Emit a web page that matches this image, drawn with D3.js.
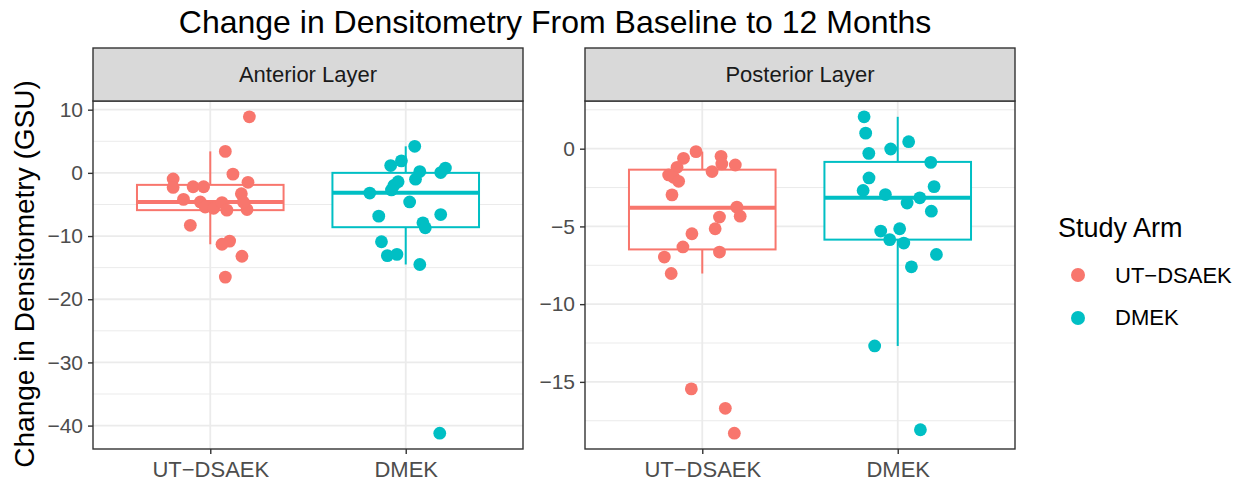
<!DOCTYPE html>
<html>
<head>
<meta charset="utf-8">
<script src="https://cdn.jsdelivr.net/npm/d3@7"></script>
<style>
  body { margin: 0; background: #fff; }
  text { font-family: "Liberation Sans", Arial, sans-serif; }
</style>
</head>
<body>
<div id="chart"></div>
<script>
// study arms and facet layers
const arms = ["UT-DSAEK", "DMEK"];
const armLabels = ["UT\u2212DSAEK", "DMEK"];
const layers = ["Anterior Layer", "Posterior Layer"];
const colors = ["#F8766D", "#00BFC4"];

// change values (GSU) and jitter offset (category units)
const antUtValues = [8.87, 3.4, -0.2, -0.96, -2.3, -2.2, -2.2, -1.5, -3.3, -4.2, -4.6, -5.4, -5.6, -4.7, -5.9, -5.8, -4.6, -8.3, -10.8, -11.3, -13.2, -16.5];
const antUtJitter = [0.20, 0.077, 0.116, -0.19, -0.19, -0.088, -0.034, 0.193, 0.159, -0.137, -0.051, -0.026, 0.017, 0.06, 0.085, 0.188, 0.169, -0.102, 0.099, 0.06, 0.162, 0.077];
const antDmValues = [4.2, 1.9, 1.16, 0.2, -1.0, 0.05, 0.75, -1.4, -2.0, -2.7, -3.2, -4.6, -6.85, -6.6, -7.9, -8.7, -10.9, -13.1, -12.9, -14.5, -41.2];
const antDmJitter = [0.046, -0.022, -0.077, 0.072, 0.05, 0.179, 0.203, -0.039, -0.061, -0.073, -0.184, 0.02, -0.138, 0.179, 0.088, 0.1, -0.124, -0.094, -0.045, 0.072, 0.174];
const postUtValues = [-0.19, -0.62, -0.49, -0.98, -1.05, -1.47, -1.2, -1.69, -1.84, -2.1, -2.97, -3.76, -4.34, -4.4, -5.15, -5.47, -6.32, -6.65, -6.97, -8.03, -15.45, -16.7, -18.3];
const postUtJitter = [-0.032, -0.096, 0.096, 0.1, 0.169, 0.05, -0.129, -0.172, -0.147, -0.121, -0.155, 0.177, 0.194, 0.088, 0.066, -0.053, -0.099, 0.088, -0.194, -0.159, -0.056, 0.118, 0.164];
const postDmValues = [2.05, 1.0, 0.45, -0.02, -0.3, -0.88, -1.88, -2.44, -2.69, -2.95, -3.16, -3.5, -4.02, -5.3, -5.15, -5.85, -6.07, -6.8, -7.6, -12.69, -18.08];
const postDmJitter = [-0.172, -0.164, 0.056, -0.036, -0.148, 0.169, -0.147, 0.186, -0.177, -0.063, 0.113, 0.048, 0.172, -0.087, 0.01, -0.041, 0.031, 0.198, 0.07, -0.118, 0.116];

// box stats [lower whisker, q1, median, q3, upper whisker]
const antUtBox = [-11.3, -5.9, -4.6, -1.9, 3.4];
const antDmBox = [-14.5, -8.6, -3.15, 0.0, 4.2];
const postUtBox = [-8.03, -6.48, -3.8, -1.35, -0.19];
const postDmBox = [-12.69, -5.85, -3.16, -0.85, 2.05];

// tick values
const antTicks = [10, 0, -10, -20, -30, -40];
const antMinor = [5, -5, -15, -25, -35];
const postTicks = [0, -5, -10, -15];
const postMinor = [2.5, -2.5, -7.5, -12.5, -17.5];

const panels = [
  { name: layers[0], x0: 93, x1: 523, ticks: antTicks, minor: antMinor,
    groups: [[antUtValues, antUtJitter, antUtBox], [antDmValues, antDmJitter, antDmBox]] },
  { name: layers[1], x0: 585, x1: 1015, ticks: postTicks, minor: postMinor,
    groups: [[postUtValues, postUtJitter, postUtBox], [postDmValues, postDmJitter, postDmBox]] }
];

const width = 1251, height = 487;
const plotTop = 101, plotBottom = 449, stripTop = 48;

const svg = d3.select("#chart").append("svg")
  .attr("width", width).attr("height", height);

svg.append("text")
  .attr("x", 555).attr("y", 33)
  .attr("text-anchor", "middle")
  .attr("font-size", 32)
  .attr("fill", "#000")
  .text("Change in Densitometry From Baseline to 12 Months");

svg.append("text")
  .attr("transform", "translate(34,274) rotate(-90)")
  .attr("text-anchor", "middle")
  .attr("font-size", 28)
  .text("Change in Densitometry (GSU)");

panels.forEach(p => {
  const all = p.groups[0][0].concat(p.groups[1][0]);
  const ext = d3.extent(all);
  const pad = (ext[1] - ext[0]) * 0.05;
  const y = d3.scaleLinear().domain([ext[0] - pad, ext[1] + pad]).range([plotBottom, plotTop]);
  const x = d3.scalePoint().domain(arms).range([p.x0, p.x1]).padding(0.6);
  const step = x.step();

  const g = svg.append("g");

  // grid
  g.selectAll(".minor").data(p.minor).enter().append("line")
    .attr("x1", p.x0).attr("x2", p.x1)
    .attr("y1", d => y(d)).attr("y2", d => y(d))
    .attr("stroke", "#EBEBEB").attr("stroke-width", 1);
  g.selectAll(".major").data(p.ticks).enter().append("line")
    .attr("x1", p.x0).attr("x2", p.x1)
    .attr("y1", d => y(d)).attr("y2", d => y(d))
    .attr("stroke", "#EBEBEB").attr("stroke-width", 1.8);
  g.selectAll(".vmajor").data(arms).enter().append("line")
    .attr("x1", d => x(d)).attr("x2", d => x(d))
    .attr("y1", plotTop).attr("y2", plotBottom)
    .attr("stroke", "#EBEBEB").attr("stroke-width", 1.8);

  // boxes
  p.groups.forEach((grp, i) => {
    const b = grp[2];
    const cx = x(arms[i]);
    const bw = step * 0.75;
    const bg = g.append("g").attr("stroke", colors[i]).attr("fill", "none");
    bg.append("line").attr("x1", cx).attr("x2", cx).attr("y1", y(b[3])).attr("y2", y(b[4])).attr("stroke-width", 2);
    bg.append("line").attr("x1", cx).attr("x2", cx).attr("y1", y(b[1])).attr("y2", y(b[0])).attr("stroke-width", 2);
    bg.append("rect")
      .attr("x", cx - bw / 2).attr("width", bw)
      .attr("y", y(b[3])).attr("height", y(b[1]) - y(b[3]))
      .attr("fill", "#fff").attr("stroke-width", 2);
    bg.append("line").attr("x1", cx - bw / 2).attr("x2", cx + bw / 2)
      .attr("y1", y(b[2])).attr("y2", y(b[2])).attr("stroke-width", 4);
  });

  // jittered points
  p.groups.forEach((grp, i) => {
    g.selectAll(".pt" + i).data(grp[0]).enter().append("circle")
      .attr("cx", (d, j) => x(arms[i]) + grp[1][j] * step)
      .attr("cy", d => y(d))
      .attr("r", 6.4)
      .attr("fill", colors[i]);
  });

  // panel border
  g.append("rect")
    .attr("x", p.x0).attr("y", plotTop)
    .attr("width", p.x1 - p.x0).attr("height", plotBottom - plotTop)
    .attr("fill", "none").attr("stroke", "#333").attr("stroke-width", 1.4);

  // strip
  g.append("rect")
    .attr("x", p.x0).attr("y", stripTop)
    .attr("width", p.x1 - p.x0).attr("height", plotTop - stripTop)
    .attr("fill", "#D9D9D9").attr("stroke", "#333").attr("stroke-width", 1.4);
  g.append("text")
    .attr("x", (p.x0 + p.x1) / 2).attr("y", 82)
    .attr("text-anchor", "middle").attr("font-size", 22).attr("fill", "#1A1A1A")
    .text(p.name);

  // axes
  const yAxis = d3.axisLeft(y).tickValues(p.ticks).tickSize(5).tickPadding(5).tickFormat(d3.format("d"));
  const ya = g.append("g").attr("transform", "translate(" + p.x0 + ",0)").call(yAxis);
  ya.select(".domain").remove();
  ya.selectAll("line").attr("stroke", "#333").attr("stroke-width", 1.4);
  ya.selectAll("text").attr("font-size", 21).attr("fill", "#4D4D4D")
    .attr("font-family", "Liberation Sans, Arial, sans-serif");

  const xAxis = d3.axisBottom(x).tickSize(5).tickPadding(7).tickFormat((d, i) => armLabels[i]);
  const xa = g.append("g").attr("transform", "translate(0," + plotBottom + ")").call(xAxis);
  xa.select(".domain").remove();
  xa.selectAll("line").attr("stroke", "#333").attr("stroke-width", 1.4);
  xa.selectAll("text").attr("font-size", 22).attr("fill", "#4D4D4D")
    .attr("font-family", "Liberation Sans, Arial, sans-serif");
});

// legend
const legend = svg.append("g").attr("transform", "translate(1058,0)");
legend.append("text").attr("x", 0).attr("y", 237).attr("font-size", 27).text("Study Arm");
arms.forEach((a, i) => {
  legend.append("circle").attr("cx", 20).attr("cy", 275 + i * 43).attr("r", 7).attr("fill", colors[i]);
  legend.append("text").attr("x", 57).attr("y", 283 + i * 42).attr("font-size", 22).text(armLabels[i]);
});
</script>
</body>
</html>
